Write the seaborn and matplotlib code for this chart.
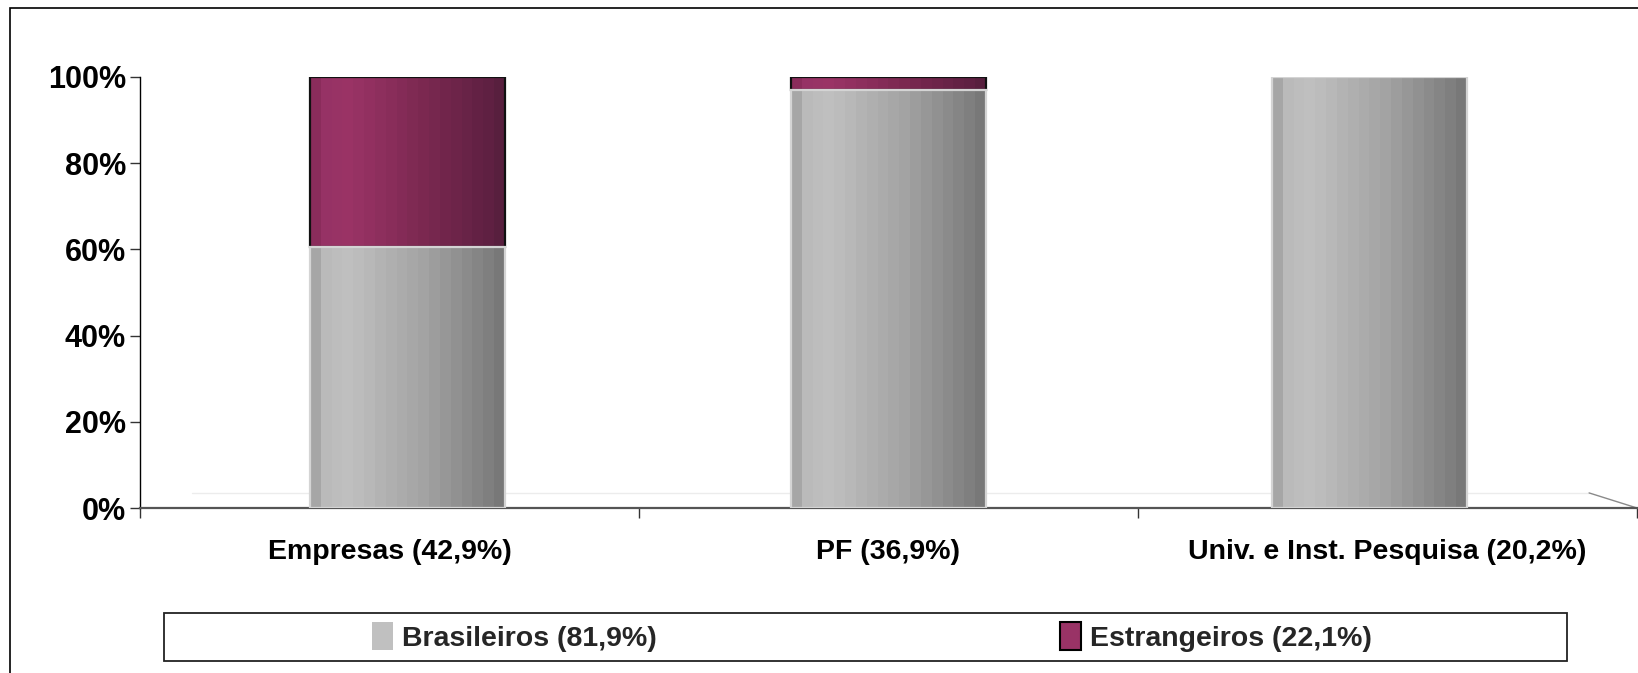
import numpy as np
import pandas as pd
import matplotlib
matplotlib.use("Agg")
import matplotlib.pyplot as plt
from matplotlib.patches import Rectangle, Patch
from matplotlib.colors import to_rgb
import seaborn as sns

# Origin of deposits by type of applicant (share of each group, %)
categories = ["Empresas (42,9%)", "PF (36,9%)", "Univ. e Inst. Pesquisa (20,2%)"]
brasileiros = [60.5, 97.0, 100.0]
estrangeiros = [39.5, 3.0, 0.0]
series_labels = ["Brasileiros (81,9%)", "Estrangeiros (22,1%)"]
y_ticks = [0, 20, 40, 60, 80, 100]

GRAY = "#c0c0c0"
PURPLE = "#993366"

sns.set_theme(style="white")
plt.rcParams["font.family"] = ["Liberation Sans", "DejaVu Sans"]
plt.rcParams["font.weight"] = "bold"

fig = plt.figure(figsize=(16.38, 6.73), dpi=100)
W, H = 1638, 673
ax = fig.add_axes([140 / W, 1 - 508 / H, (1637 - 140) / W, (508 - 77) / H])

df = pd.DataFrame({
    "categoria": categories,
    "brasileiros": brasileiros,
    "estrangeiros": estrangeiros,
})
df["total"] = df["brasileiros"] + df["estrangeiros"]

bar_w = 0.39
sns.barplot(data=df, x="categoria", y="total", color=PURPLE, width=bar_w,
            saturation=1, ax=ax)
n = len(categories)
purple_patches = list(ax.patches[:n])
sns.barplot(data=df, x="categoria", y="brasileiros", color=GRAY, width=bar_w,
            saturation=1, ax=ax)
gray_patches = list(ax.patches[n:2 * n])

# stack the foreign segment on top of the domestic one
for p, b, e in zip(purple_patches, df["brasileiros"], df["estrangeiros"]):
    p.set_y(b)
    p.set_height(e)

# perspective: bars sit slightly closer together than the category slots
mid = (n - 1) / 2
squeeze = 0.964
for p in purple_patches + gray_patches:
    c = p.get_x() + p.get_width() / 2
    p.set_x(mid + (c - mid) * squeeze - p.get_width() / 2)


def shade_band(stops, n_bands=18):
    """Stepped horizontal shading that gives the bars a cylindrical look."""
    pos = np.array([s[0] for s in stops])
    cols = np.array([to_rgb(s[1]) for s in stops])
    xs = (np.arange(n_bands) + 0.5) / n_bands
    band = np.stack([np.interp(xs, pos, cols[:, k]) for k in range(3)], axis=-1)
    return band[np.newaxis, :, :]


gray_band = shade_band([(0.0, "#a6a6a6"), (0.06, "#a8a8a8"), (0.07, "#bababa"),
                        (0.2, "#c0c0c0"), (0.6, "#a2a2a2"), (0.93, "#7e7e7e"),
                        (0.94, "#7a7a7a"), (1.0, "#787878")])
purple_band = shade_band([(0.0, "#8a2c5b"), (0.06, "#8c2d5c"), (0.07, "#963265"),
                          (0.2, "#9b3466"), (0.6, "#7a2850"), (0.93, "#5e2042"),
                          (0.94, "#5a1f3f"), (1.0, "#58203e")])


def dress(patch, band, edge, z):
    x0, y0 = patch.get_x(), patch.get_y()
    w, h = patch.get_width(), patch.get_height()
    patch.set_zorder(z)
    patch.set_edgecolor("none")
    if h <= 0:
        return
    im = ax.imshow(band, extent=(x0, x0 + w, y0, y0 + h), aspect="auto",
                   interpolation="nearest", zorder=z + 0.05)
    im.set_clip_path(patch)
    ax.add_patch(Rectangle((x0, y0), w, h, fill=False, edgecolor=edge,
                           linewidth=1.6, zorder=z + 0.1))


for p in purple_patches:
    dress(p, purple_band, "#111111", 2)
for p in gray_patches:
    dress(p, gray_band, "#d4d4d4", 3)

ax.set_xlim(-0.5, n - 0.5)
ax.set_ylim(0, 100)

# floor of the plotting area
ax.plot([0.035, 0.968], [0.035, 0.035], transform=ax.transAxes,
        color="#ececec", lw=1, zorder=1)
ax.plot([0.968, 1.0], [0.035, 0.0], transform=ax.transAxes,
        color="#8a8a8a", lw=1, zorder=1, clip_on=False)

ax.set_yticks(y_ticks)
ax.set_yticklabels([f"{v}%" for v in y_ticks], fontsize=22, fontweight="bold")
ax.set_xticks(range(n))
ax.set_xticklabels(categories, fontsize=20.5, fontweight="bold")
ax.set_xticks(np.arange(-0.5, n, 1.0), minor=True)
ax.tick_params(axis="x", which="major", length=0, pad=22, colors="black")
ax.tick_params(axis="x", which="minor", length=7, width=1, color="#333333",
               direction="out", bottom=True)
ax.tick_params(axis="y", length=7, width=1, color="#333333", direction="out",
               left=True, pad=3, labelcolor="black")
ax.set_xlabel("")
ax.set_ylabel("")
ax.grid(False)
for side in ("top", "right"):
    ax.spines[side].set_visible(False)
ax.spines["left"].set_color("black")
ax.spines["left"].set_linewidth(1.0)
ax.spines["bottom"].set_color("#555555")
ax.spines["bottom"].set_linewidth(1.6)

# outer frame of the chart area
fig.patches.append(Rectangle((10 / W, -0.2), 1.2, 1.2 - 8 / H,
                             transform=fig.transFigure, fill=False,
                             edgecolor="black", linewidth=1.2, zorder=0))

# legend box with the two entries centred in each half
fig.patches.append(Rectangle((164 / W, 1 - 661 / H), (1567 - 164) / W, 48 / H,
                             transform=fig.transFigure, fill=False,
                             edgecolor="#222222", linewidth=1.3, zorder=5))
handles = [
    Patch(facecolor=GRAY, edgecolor="none", label=series_labels[0]),
    Patch(facecolor=PURPLE, edgecolor="black", linewidth=1.5, label=series_labels[1]),
]
centres = [514 / W, 1216 / W]
for h, cx in zip(handles, centres):
    fig.legend(handles=[h], loc="center", bbox_to_anchor=(cx, 1 - 637 / H),
               frameon=False, prop={"weight": "bold", "size": 20.5,
                                    "family": ["Liberation Sans", "DejaVu Sans"]},
               handlelength=0.75, handleheight=1.1, handletextpad=0.3,
               borderpad=0)

fig.savefig("out.png", dpi=100, facecolor="white")
